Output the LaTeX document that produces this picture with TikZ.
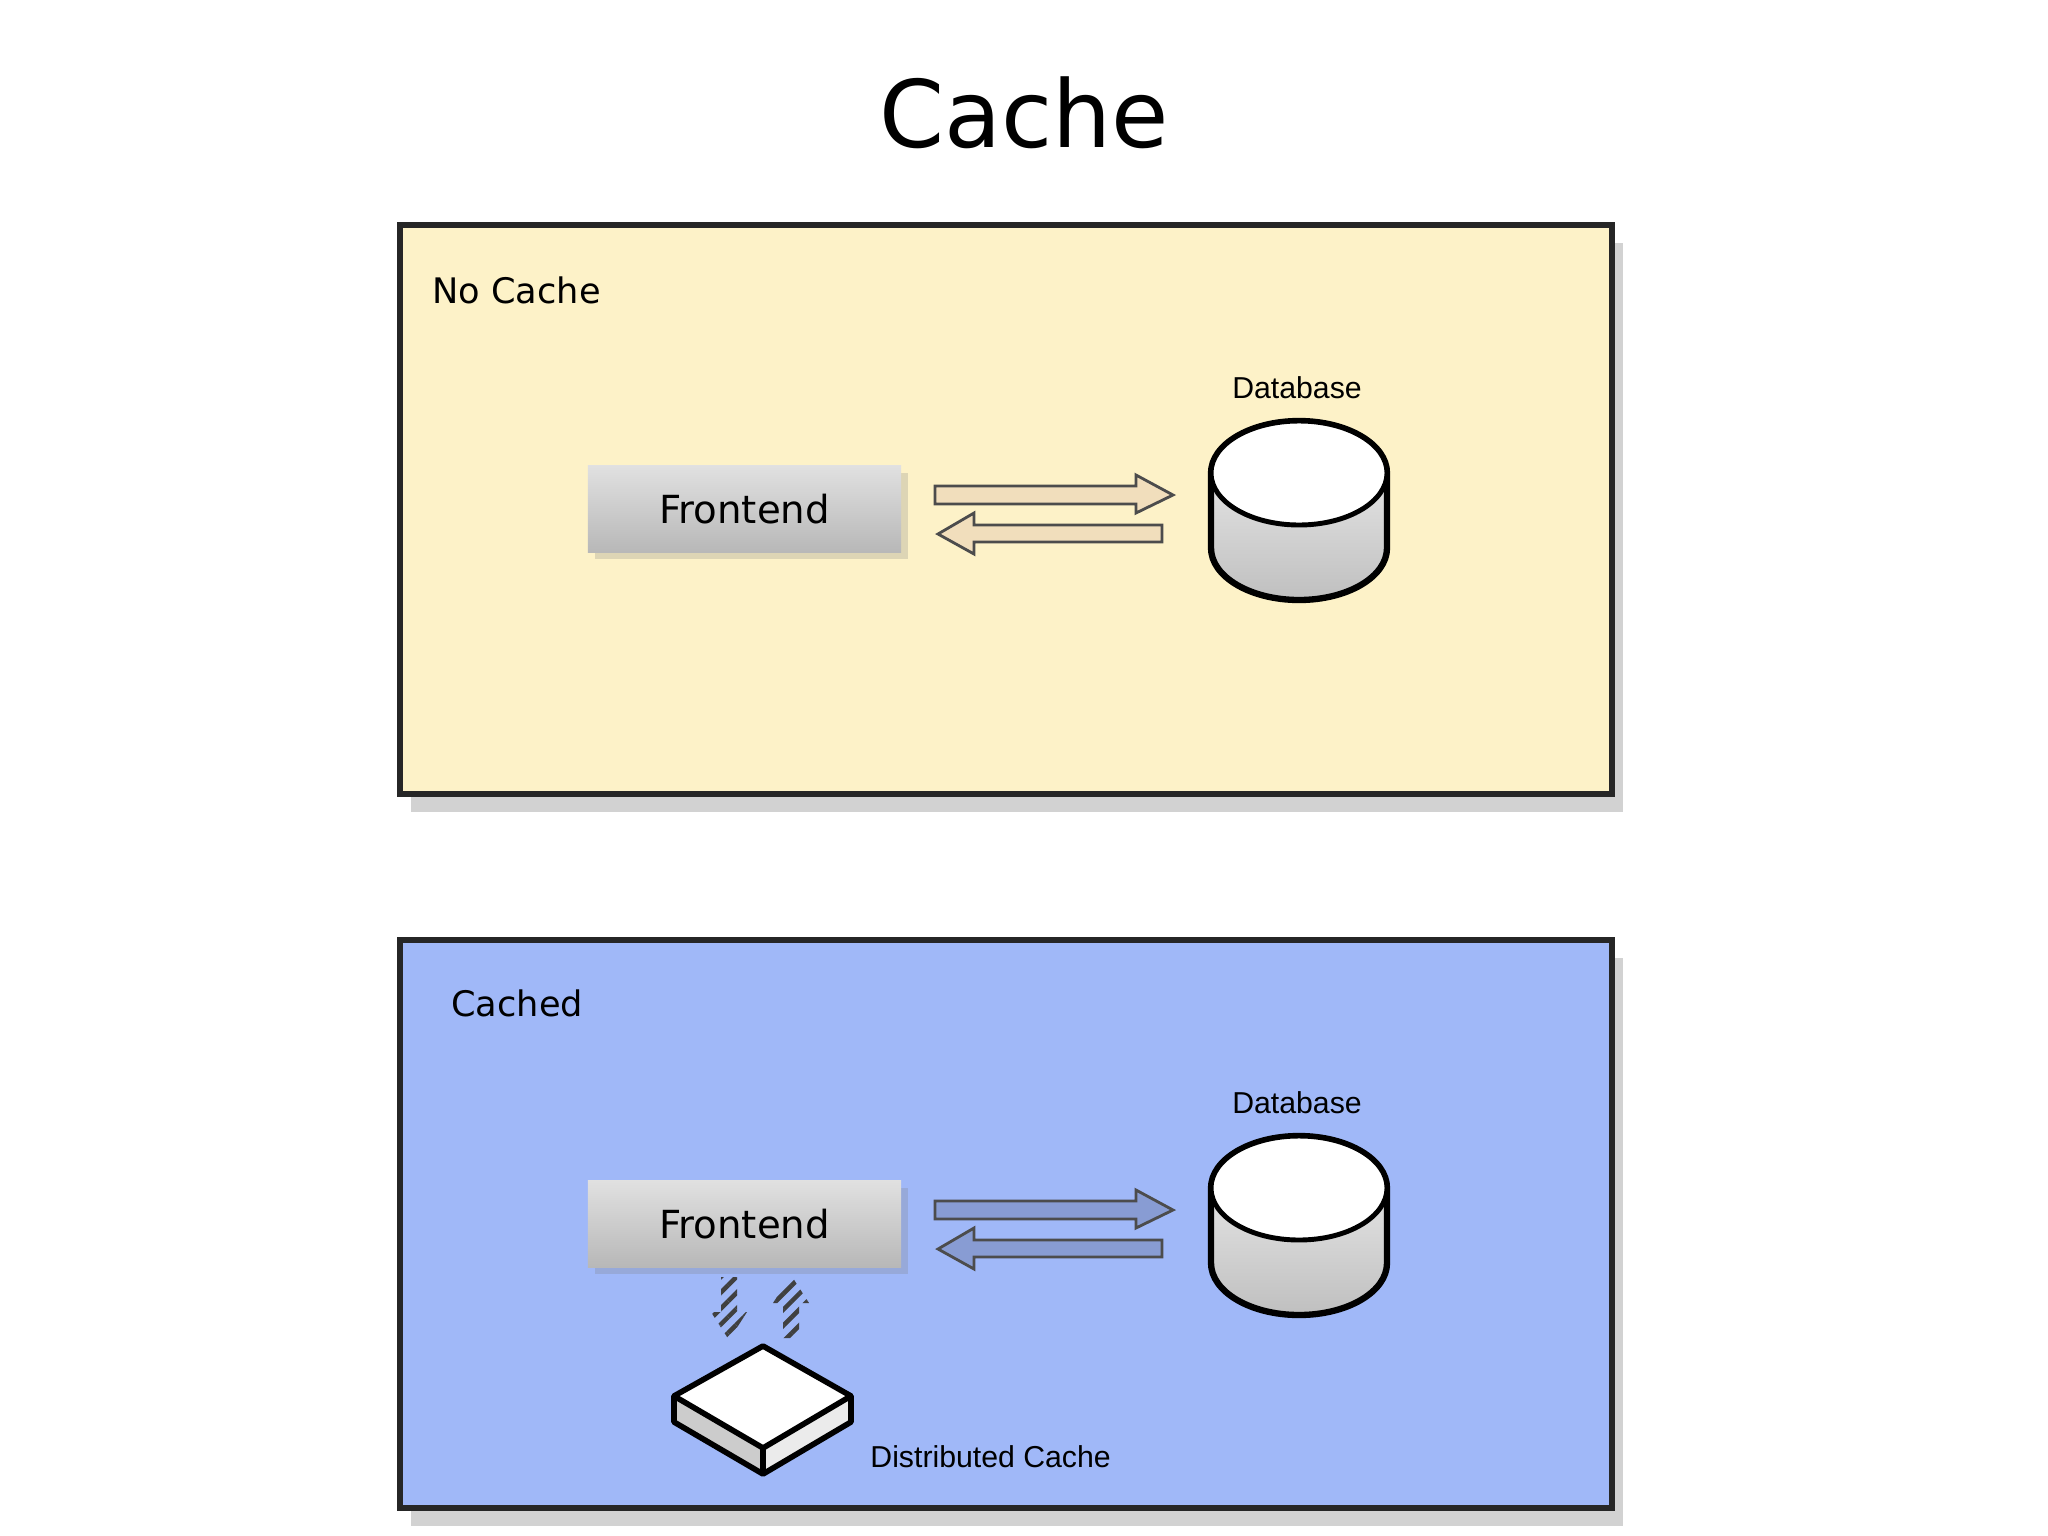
\documentclass[tikz,border=0pt]{standalone}
\usepackage{fontspec}
\setmainfont{DejaVu Sans}
\newfontfamily\arialf{Liberation Sans}
\usetikzlibrary{shadows,patterns.meta}
\definecolor{ylw}{HTML}{FDF2C8}
\definecolor{blu}{HTML}{A0B8F8}
\tikzset{
 panel/.style={draw=black!85,line width=1.6pt,drop shadow={shadow xshift=3pt,shadow yshift=-5pt,opacity=0.35}},
 fe/.style={minimum width=3.13cm,minimum height=0.86cm,top color=black!12,bottom color=black!28,draw=none,font=\fontsize{11}{14}\selectfont,drop shadow={shadow xshift=2pt,shadow yshift=-2pt,opacity=0.25}},
 lbl/.style={font=\arialf\fontsize{8.6}{10}\selectfont},
 panellbl/.style={anchor=west,font=\fontsize{10}{12}\selectfont},
 flow/.style={draw=black!70,line width=0.8pt,line join=miter},
 hatch/.style={pattern={Lines[angle=45,distance=3.2pt,line width=1.3pt]},pattern color=black!75}
}
\newcommand{\scene}[3]{% yoffset, arrow colour, tag
 \begin{scope}[yshift=#1]
 \node[fe] (fe#3) at (744.5,509) {Frontend};
 \coordinate (db#3) at (1299,473);
 \filldraw[flow,fill=#2] (935,486) -- (1136,486) -- (1136,475) -- (1173,495) -- (1136,513) -- (1136,504) -- (935,504) -- cycle;
 \filldraw[flow,fill=#2] (1162,525) -- (974,525) -- (974,513) -- (938,534) -- (974,554) -- (974,542) -- (1162,542) -- cycle;
 \shade[top color=black!5,bottom color=black!25,draw=black,line width=1.8pt] (1211,473) -- (1211,548) arc[start angle=180,end angle=360,x radius=88,y radius=-52] -- (1387,473) arc[start angle=0,end angle=180,x radius=88,y radius=-52] -- cycle;
 \filldraw[fill=white,draw=black,line width=1.4pt] (db#3) ellipse[x radius=88,y radius=-52];
 \node[lbl] (dbl#3) at (1297,388) {Database};
 \end{scope}}
\begin{document}
\begin{tikzpicture}[x=0.01cm,y=-0.01cm]
\useasboundingbox (0,0) rectangle (2048,1536);
\fill[white] (0,0) rectangle (2048,1536);
\node (title) at (1024,113) {\fontsize{26.5}{32}\selectfont Cache};
\filldraw[panel,fill=ylw] (400,225) rectangle (1612,794);
\filldraw[panel,fill=blu] (400,940) rectangle (1612,1508);
\node[panellbl] (nc) at (420,290) {No Cache};
\node[panellbl] (ca) at (439,1003) {Cached};
\scene{0}{ylw!70!brown!70}{a}
\scene{-715*0.01cm}{blu!85!black}{b}
% hatched arrows
\fill[hatch] (721,1277) -- (737,1277) -- (737,1312) -- (747,1312) -- (729,1340) -- (711,1312) -- (721,1312) -- cycle;
\fill[hatch] (783,1338) -- (799,1338) -- (799,1303) -- (809,1303) -- (791,1275) -- (773,1303) -- (783,1303) -- cycle;
% cache box
\fill[black!20] (674,1396) -- (763,1448) -- (763,1474) -- (674,1422) -- cycle;
\fill[black!8] (763,1448) -- (851,1396) -- (851,1422) -- (763,1474) -- cycle;
\draw[black,line width=1.6pt,line join=round] (674,1396) -- (674,1422) -- (763,1474) -- (851,1422) -- (851,1396) (763,1448) -- (763,1474);
\filldraw[fill=white,draw=black,line width=1.6pt,line join=round] (763,1346) -- (851,1396) -- (763,1448) -- (674,1396) -- cycle;
\node[lbl,anchor=west] (dc) at (858,1457) {Distributed Cache};
\end{tikzpicture}
\end{document}
